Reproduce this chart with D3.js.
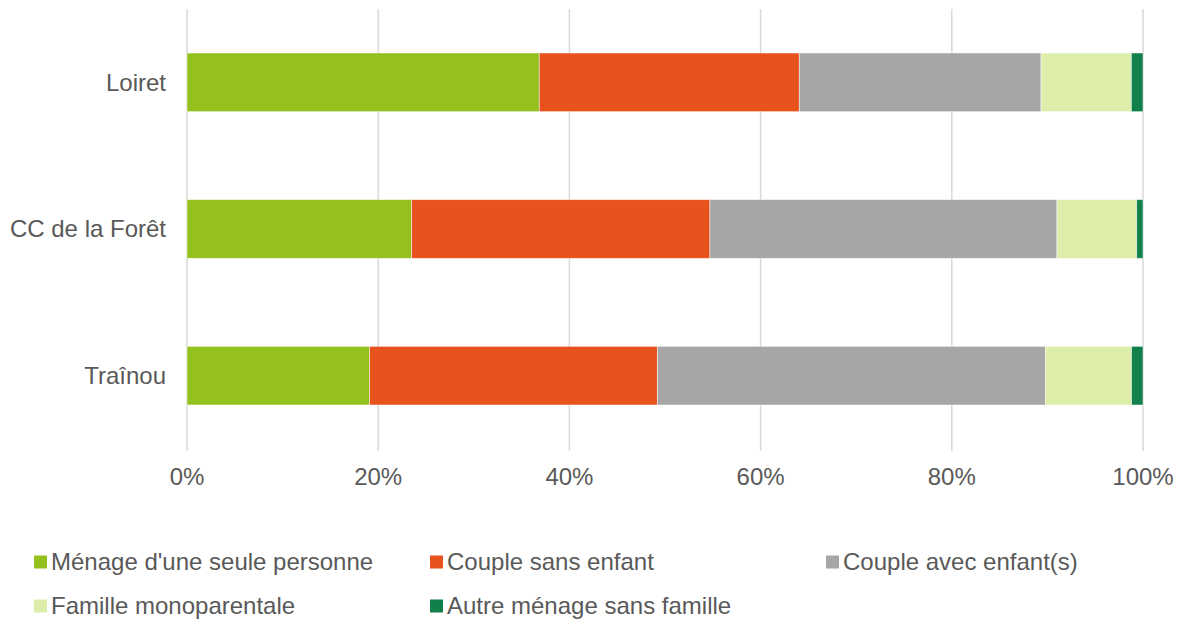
<!DOCTYPE html>
<html><head><meta charset="utf-8">
<script src="https://cdn.jsdelivr.net/npm/d3@7"></script>
<style>body{margin:0;background:#fff}svg text{font-family:"Liberation Sans",Arial,sans-serif;fill:#595959}</style>
</head><body><svg id="c" width="1180" height="621"></svg>
<script>
const categories = ["Loiret", "CC de la Forêt", "Traînou"];
const seriesNames = ["Ménage d'une seule personne", "Couple sans enfant", "Couple avec enfant(s)", "Famille monoparentale", "Autre ménage sans famille"];
const seulePersonne = [36.85, 23.5, 19.1];
const coupleSansEnfant = [27.2, 31.2, 30.1];
const coupleAvecEnfants = [25.28, 36.3, 40.6];
const monoparentale = [9.45, 8.34, 9.0];
const autreMenage = [1.22, 0.66, 1.2];
const tickValues = [0, 20, 40, 60, 80, 100];
const colors = ["#95C11F", "#E8521C", "#A6A6A6", "#DCEEAA", "#12804A"];

const seriesValues = [seulePersonne, coupleSansEnfant, coupleAvecEnfants, monoparentale, autreMenage];
const rows = categories.map((c, i) => {
  const o = {cat: c};
  seriesNames.forEach((s, j) => o[s] = seriesValues[j][i]);
  return o;
});
const stack = d3.stack().keys(seriesNames).offset(d3.stackOffsetExpand)(rows);

const svg = d3.select("#c");
const x = d3.scaleLinear().domain([0, 1]).range([187, 1143]);
const y = d3.scaleBand().domain(categories).range([9, 449]).paddingInner(0.6).paddingOuter(0.3);

// gridlines
svg.append("g").selectAll("line").data(tickValues).join("line")
  .attr("x1", d => x(d / 100)).attr("x2", d => x(d / 100))
  .attr("y1", 9).attr("y2", 451)
  .attr("stroke", "#D9D9D9").attr("stroke-width", 1.5);

// bars
svg.append("g").selectAll("g").data(stack).join("g")
  .attr("fill", (d, i) => colors[i])
  .selectAll("rect").data(d => d).join("rect")
  .attr("x", d => x(d[0])).attr("width", d => x(d[1]) - x(d[0]))
  .attr("y", d => y(d.data.cat)).attr("height", y.bandwidth())
  .attr("stroke", "#fff").attr("stroke-opacity", 0.6).attr("stroke-width", 0.8);

// x tick labels
svg.append("g").selectAll("text").data(tickValues).join("text")
  .attr("x", d => x(d / 100)).attr("y", 485)
  .attr("text-anchor", "middle").attr("font-size", 24)
  .text(d => d + "%");

// category labels
svg.append("g").selectAll("text").data(categories).join("text")
  .attr("x", 166).attr("y", d => y(d) + y.bandwidth() / 2)
  .attr("dy", "0.35em").attr("text-anchor", "end").attr("font-size", 24)
  .text(d => d);

// legend
const legendPos = [[34, 562], [430, 562], [826, 562], [34, 606], [430, 606]];
const lg = svg.append("g").selectAll("g").data(seriesNames).join("g")
  .attr("transform", (d, i) => `translate(${legendPos[i][0]},${legendPos[i][1]})`);
lg.append("rect").attr("x", 0).attr("y", -6.5).attr("width", 13).attr("height", 13)
  .attr("fill", (d, i) => colors[i]);
lg.append("text").attr("x", 17).attr("y", 0).attr("dy", "0.35em")
  .attr("font-size", 24).text(d => d);
</script></body></html>
